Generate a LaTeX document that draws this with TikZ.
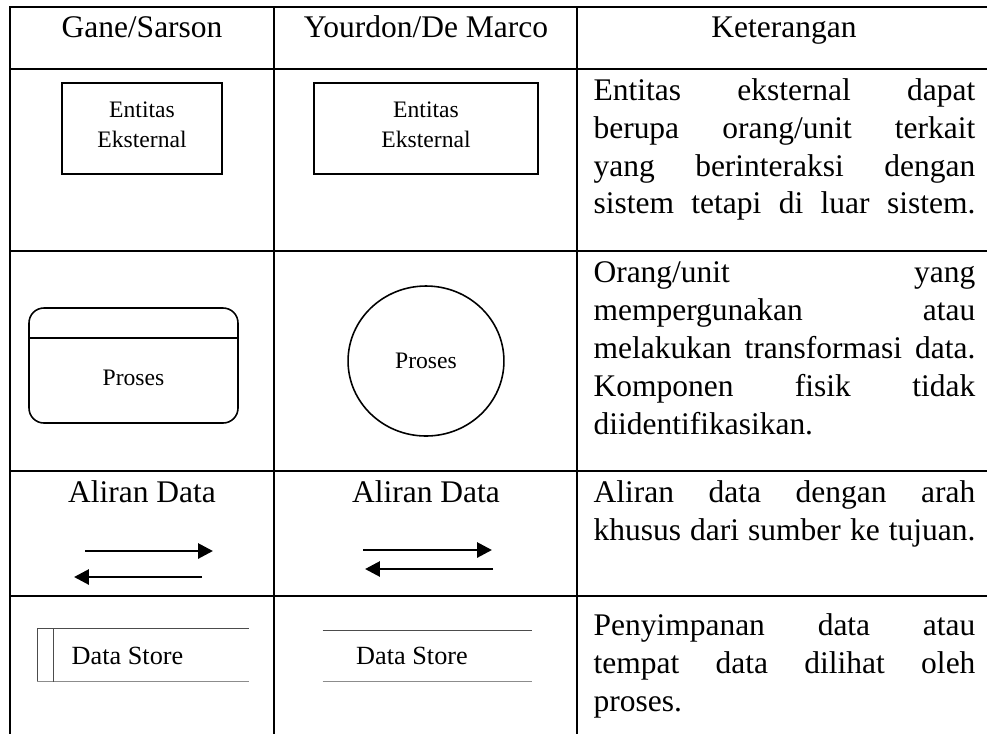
\documentclass[tikz,border=0pt]{standalone}
\usepackage{fontspec}
\setmainfont{Liberation Serif}
\usepackage{tikz}
\usetikzlibrary{arrows.meta,positioning,shapes.geometric}

\begin{document}
\begin{tikzpicture}[
  x=0.381pt, y=-0.381pt,
  rule/.style={line width=1pt, line cap=rect},
  head/.style={anchor=base, inner sep=0, font=\fontsize{12}{14.4}\selectfont},
  desc/.style={anchor=north west, inner sep=0, text width=145.5pt, align=left, font=\fontsize{12}{14.4}\selectfont},
  sym/.style={draw, line width=0.6pt, inner sep=0, align=center, font=\fontsize{9}{11.4}\selectfont},
  lbl/.style={anchor=base, inner sep=0, font=\fontsize{9}{11.4}\selectfont},
  flow/.style={-{Triangle[length=5.7pt, width=5.7pt]}, line width=1.1pt},
  store/.style={line width=0.5pt, draw=black!70},
]
  \clip (0,0) rectangle (987,733);

  % grid of the table
  \foreach \y in {7,69,251,471,596}
    \draw[rule] (10,\y) -- (1000,\y);
  \foreach \x in {10,274,577,991}
    \draw[rule] (\x,7) -- (\x,750);

  \node[head] (hdGane) at (142,37) {Gane/Sarson};
  \node[head] (hdYourdon) at (426,37) {Yourdon/De Marco};
  \node[head] (hdKet) at (784,37) {Keterangan};

  % external entity
  \node[sym, minimum width=60.96pt, minimum height=34.67pt, text depth=3pt] (entGS) at (142,128.5) {Entitas\\Eksternal};
  \node[sym, minimum width=85.34pt, minimum height=34.67pt, text depth=3pt] (entYD) at (426,128.5) {Entitas\\Eksternal};
  \node[desc] (ketEnt) at (593,73.5) {\strut Entitas\hfill eksternal\hfill dapat\\
    berupa\hfill orang/unit\hfill terkait\\
    yang\hfill berinteraksi\hfill dengan\\
    sistem\hfill tetapi\hfill di\hfill luar\hfill sistem.};

  % process
  \node[sym, rounded corners=5.7pt, minimum width=79.63pt, minimum height=43.82pt] (procGS) at (133.5,365.5) {};
  \draw[line width=0.6pt] ([yshift=-11.8pt]procGS.north west) -- ([yshift=-11.8pt]procGS.north east);
  \node[lbl] (procGSlbl) at (133.5,385) {Proses};
  \node[sym, ellipse, minimum width=59.4pt, minimum height=57.15pt] (procYD) at (426,361) {Proses};
  \node[desc] (ketProc) at (593,256) {\strut Orang/unit\hfill yang\\
    mempergunakan\hfill atau\\
    melakukan\hfill transformasi\hfill data.\\
    Komponen\hfill fisik\hfill tidak\\
    diidentifikasikan.};

  % data flow
  \node[head] (flowGS) at (142,502) {Aliran Data};
  \node[head] (flowYD) at (426,502) {Aliran Data};
  \coordinate (gsOutA) at (85,551);
  \coordinate (gsOutB) at (213,551);
  \coordinate (gsInA) at (202,577);
  \coordinate (gsInB) at (74,577);
  \coordinate (ydOutA) at (363,550);
  \coordinate (ydOutB) at (492,550);
  \coordinate (ydInA) at (493,569);
  \coordinate (ydInB) at (365,569);
  \draw[flow] (gsOutA) -- (gsOutB);
  \draw[flow] (gsInA) -- (gsInB);
  \draw[flow] (ydOutA) -- (ydOutB);
  \draw[flow] (ydInA) -- (ydInB);
  \node[desc] (ketFlow) at (593,475.5) {\strut Aliran\hfill data\hfill dengan\hfill arah\\
    khusus\hfill dari\hfill sumber\hfill ke\hfill tujuan.};

  % data store
  \node[minimum width=80pt, minimum height=19.8pt, inner sep=0] (dsGS) at (143,655) {};
  \draw[store] (dsGS.north east) -- (dsGS.north west) -- (dsGS.south west);
  \draw[store, draw=black!45] (dsGS.south west) -- (dsGS.south east);
  \draw[store] ([xshift=6.1pt]dsGS.north west) -- ([xshift=6.1pt]dsGS.south west);
  \node[lbl, font=\fontsize{10}{12}\selectfont] (dsGSlbl) at (127.5,664) {Data Store};
  \node[minimum width=79.6pt, minimum height=19.05pt, inner sep=0] (dsYD) at (427.5,656) {};
  \draw[store] (dsYD.north west) -- (dsYD.north east);
  \draw[store, draw=black!45] (dsYD.south west) -- (dsYD.south east);
  \node[lbl, font=\fontsize{10}{12}\selectfont] (dsYDlbl) at (412,664) {Data Store};
  \node[desc] (ketStore) at (593,608.5) {\strut Penyimpanan\hfill data\hfill atau\\
    tempat\hfill data\hfill dilihat\hfill oleh\\
    proses.};
\end{tikzpicture}
\end{document}
